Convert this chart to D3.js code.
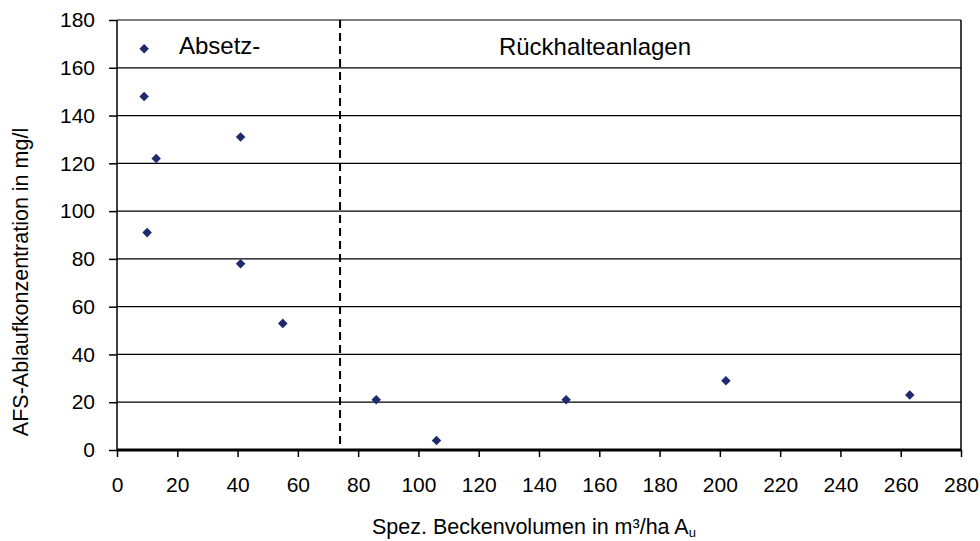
<!DOCTYPE html>
<html>
<head>
<meta charset="utf-8">
<script src="https://cdn.jsdelivr.net/npm/d3@7"></script>
<style>
  body { margin: 0; background: #fff; }
  svg { font-family: "Liberation Sans", Arial, sans-serif; }
</style>
</head>
<body>
<svg width="980" height="541"></svg>
<script>
// data
var volumen = [9, 9, 13, 10, 41, 41, 55, 86, 106, 149, 202, 263];
var afs     = [168, 148, 122, 91, 131, 78, 53, 21, 4, 21, 29, 23];
var xTicks = d3.range(0, 281, 20);
var yTicks = d3.range(0, 181, 20);
var grenze = 74;   // dashed separator

var svg = d3.select("svg"),
    margin = {top: 20, right: 19, bottom: 91, left: 117},
    width = +svg.attr("width") - margin.left - margin.right,
    height = +svg.attr("height") - margin.top - margin.bottom;

var x = d3.scaleLinear().domain([0, 280]).range([0, width]),
    y = d3.scaleLinear().domain([0, 180]).range([height, 0]);

var g = svg.append("g")
    .attr("transform", "translate(" + margin.left + "," + margin.top + ")");

// gridlines
g.append("g").selectAll("line")
    .data(yTicks.filter(function(d) { return d > 0; }))
  .enter().append("line")
    .attr("x1", 0).attr("x2", width)
    .attr("y1", function(d) { return y(d); })
    .attr("y2", function(d) { return y(d); })
    .attr("stroke", "#000")
    .attr("stroke-width", 1.2);

// frame right side
g.append("line")
    .attr("x1", width).attr("x2", width)
    .attr("y1", 0).attr("y2", height)
    .attr("stroke", "#000").attr("stroke-width", 1.5);

var xAxis = d3.axisBottom(x).tickValues(xTicks).tickSize(7).tickPadding(20),
    yAxis = d3.axisLeft(y).tickValues(yTicks).tickSize(8).tickPadding(14);

var gx = g.append("g")
    .attr("transform", "translate(0," + height + ")")
    .call(xAxis);
var gy = g.append("g").call(yAxis);

[gx, gy].forEach(function(a) {
  a.attr("font-size", 21).attr("font-family", "Liberation Sans, Arial, sans-serif");
  a.selectAll("text").attr("fill", "#000");
  a.selectAll("line").attr("stroke", "#000").attr("stroke-width", 1.5);
  a.select(".domain").attr("stroke", "#000").attr("stroke-width", 1.5);
});
gx.select(".domain").attr("stroke-width", 3).attr("d", "M0,0H" + width);
gy.select(".domain").attr("d", "M0," + height + "V0");

// dashed separator
g.append("line")
    .attr("x1", x(grenze)).attr("x2", x(grenze))
    .attr("y1", 0).attr("y2", height)
    .attr("stroke", "#000")
    .attr("stroke-width", 2)
    .attr("stroke-dasharray", "8,5");

// region labels
g.append("text")
    .attr("x", 179 - margin.left).attr("y", 54 - margin.top)
    .attr("font-size", 24)
    .text("Absetz-");
g.append("text")
    .attr("x", 595 - margin.left).attr("y", 55 - margin.top)
    .attr("font-size", 24)
    .attr("text-anchor", "middle")
    .text("Rückhalteanlagen");

// points
var punkte = volumen.map(function(v, i) { return [v, afs[i]]; });
g.selectAll(".pt")
    .data(punkte)
  .enter().append("path")
    .attr("class", "pt")
    .attr("d", d3.symbol().type(d3.symbolDiamond2).size(58))
    .attr("transform", function(d) { return "translate(" + x(d[0]) + "," + y(d[1]) + ")"; })
    .attr("fill", "#1f2a6e");

// axis titles
svg.append("text")
    .attr("transform", "translate(28,282) rotate(-90)")
    .attr("text-anchor", "middle")
    .attr("font-size", 21.5)
    .text("AFS-Ablaufkonzentration in mg/l");

var xt = svg.append("text")
    .attr("x", 372)
    .attr("y", 534)
    .attr("font-size", 21.5);
xt.append("tspan").text("Spez. Beckenvolumen in m³/ha A");
xt.append("tspan").attr("font-size", 13).attr("dy", 3).text("u");
</script>
</body>
</html>
